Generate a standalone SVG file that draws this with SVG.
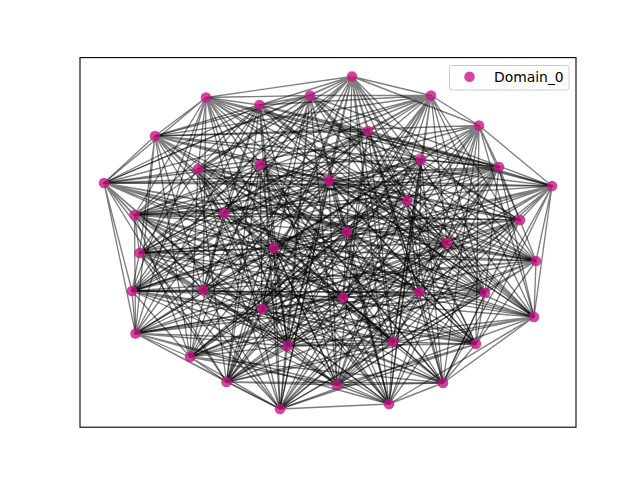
<svg xmlns="http://www.w3.org/2000/svg" width="640" height="480" viewBox="0 0 640 480">
<style>
.e{fill:none;stroke:#000;stroke-opacity:0.5;stroke-width:1.35;stroke-linejoin:round}
.n{fill:#c71585;fill-opacity:0.8}
.lt{font-family:"DejaVu Sans","Liberation Sans",sans-serif;font-size:13.9px;fill:#000}
</style>
<rect x="0" y="0" width="640" height="480" fill="#fff"/>
<g id="edges">
<path class="e" d="M352 76.5L431 95.5 352 76.5 310 95.5 352 76.5 259.5 105 352 76.5 206 97.5 352 76.5 479 125.5 352 76.5 368 131 352 76.5 260 164.5 352 76.5 198 169 352 76.5 329 180.5 352 76.5 104 183 352 76.5 407 200.5 352 76.5 224 213 352 76.5 347 232 352 76.5 447 243 352 76.5 139.5 253 352 76.5 536 261 352 76.5 419 292 352 76.5 485 293 352 76.5 262 309 352 76.5 534 317 352 76.5 393 342 352 76.5 287.5 346 352 76.5 190 357 352 76.5 226.5 382 352 76.5 389 404 352 76.5 280 409"/>
<path class="e" d="M431 95.5L310 95.5 431 95.5 259.5 105 431 95.5 479 125.5 431 95.5 368 131 431 95.5 155 136 431 95.5 260 164.5 431 95.5 198 169 431 95.5 329 180.5 431 95.5 104 183 431 95.5 224 213 431 95.5 134.5 215 431 95.5 347 232 431 95.5 447 243 431 95.5 139.5 253 431 95.5 536 261 431 95.5 485 293 431 95.5 132 291 431 95.5 262 309 431 95.5 534 317 431 95.5 393 342 431 95.5 287.5 346 431 95.5 226.5 382 431 95.5 337 385 431 95.5 389 404 431 95.5 280 409"/>
<path class="e" d="M310 95.5L259.5 105 310 95.5 206 97.5 310 95.5 368 131 310 95.5 155 136 310 95.5 260 164.5 310 95.5 198 169 310 95.5 104 183 310 95.5 552 186 310 95.5 224 213 310 95.5 134.5 215 310 95.5 347 232 310 95.5 447 243 310 95.5 536 261 310 95.5 203 290 310 95.5 485 293 310 95.5 132 291 310 95.5 262 309 310 95.5 534 317 310 95.5 287.5 346 310 95.5 476 344 310 95.5 226.5 382 310 95.5 337 385 310 95.5 389 404 310 95.5 280 409"/>
<path class="e" d="M259.5 105L206 97.5 259.5 105 368 131 259.5 105 155 136 259.5 105 198 169 259.5 105 499 167 259.5 105 104 183 259.5 105 552 186 259.5 105 224 213 259.5 105 134.5 215 259.5 105 447 243 259.5 105 274 248 259.5 105 536 261 259.5 105 203 290 259.5 105 485 293 259.5 105 132 291 259.5 105 534 317 259.5 105 135.5 333.5 259.5 105 287.5 346 259.5 105 476 344 259.5 105 226.5 382 259.5 105 337 385 259.5 105 280 409"/>
<path class="e" d="M206 97.5L155 136 206 97.5 421 159.5 206 97.5 198 169 206 97.5 499 167 206 97.5 104 183 206 97.5 552 186 206 97.5 134.5 215 206 97.5 520 220 206 97.5 447 243 206 97.5 274 248 206 97.5 536 261 206 97.5 203 290 206 97.5 132 291 206 97.5 343 297.5 206 97.5 534 317 206 97.5 135.5 333.5 206 97.5 287.5 346 206 97.5 476 344 206 97.5 337 385 206 97.5 443 383 206 97.5 280 409"/>
<path class="e" d="M479 125.5L155 136 479 125.5 421 159.5 479 125.5 198 169 479 125.5 499 167 479 125.5 552 186 479 125.5 407 200.5 479 125.5 134.5 215 479 125.5 520 220 479 125.5 447 243 479 125.5 274 248 479 125.5 203 290 479 125.5 419 292 479 125.5 132 291 479 125.5 343 297.5 479 125.5 534 317 479 125.5 135.5 333.5 479 125.5 476 344 479 125.5 190 357 479 125.5 337 385 479 125.5 443 383 479 125.5 280 409"/>
<path class="e" d="M368 131L155 136 368 131 421 159.5 368 131 499 167 368 131 329 180.5 368 131 552 186 368 131 407 200.5 368 131 134.5 215 368 131 520 220 368 131 274 248 368 131 139.5 253 368 131 203 290 368 131 419 292 368 131 132 291 368 131 343 297.5 368 131 135.5 333.5 368 131 393 342 368 131 476 344 368 131 190 357 368 131 337 385 368 131 443 383"/>
<path class="e" d="M155 136L421 159.5 155 136 260 164.5 155 136 499 167 155 136 329 180.5 155 136 104 183 155 136 552 186 155 136 407 200.5 155 136 520 220 155 136 347 232 155 136 274 248 155 136 139.5 253 155 136 203 290 155 136 419 292 155 136 343 297.5 155 136 262 309 155 136 135.5 333.5 155 136 393 342 155 136 476 344 155 136 190 357 155 136 443 383 155 136 389 404"/>
<path class="e" d="M421 159.5L260 164.5 421 159.5 499 167 421 159.5 329 180.5 421 159.5 407 200.5 421 159.5 224 213 421 159.5 520 220 421 159.5 347 232 421 159.5 274 248 421 159.5 139.5 253 421 159.5 419 292 421 159.5 485 293 421 159.5 343 297.5 421 159.5 262 309 421 159.5 135.5 333.5 421 159.5 393 342 421 159.5 190 357 421 159.5 226.5 382 421 159.5 443 383 421 159.5 389 404"/>
<path class="e" d="M260 164.5L329 180.5 260 164.5 104 183 260 164.5 407 200.5 260 164.5 224 213 260 164.5 520 220 260 164.5 347 232 260 164.5 139.5 253 260 164.5 536 261 260 164.5 419 292 260 164.5 485 293 260 164.5 343 297.5 260 164.5 262 309 260 164.5 393 342 260 164.5 287.5 346 260 164.5 190 357 260 164.5 226.5 382 260 164.5 443 383 260 164.5 389 404"/>
<path class="e" d="M198 169L329 180.5 198 169 104 183 198 169 407 200.5 198 169 224 213 198 169 347 232 198 169 447 243 198 169 139.5 253 198 169 536 261 198 169 419 292 198 169 485 293 198 169 262 309 198 169 534 317 198 169 393 342 198 169 287.5 346 198 169 190 357 198 169 226.5 382 198 169 389 404 198 169 280 409"/>
<path class="e" d="M499 167L329 180.5 499 167 104 183 499 167 224 213 499 167 134.5 215 499 167 347 232 499 167 447 243 499 167 139.5 253 499 167 536 261 499 167 485 293 499 167 132 291 499 167 262 309 499 167 534 317 499 167 393 342 499 167 287.5 346 499 167 226.5 382 499 167 337 385 499 167 389 404 499 167 280 409"/>
<path class="e" d="M329 180.5L104 183 329 180.5 552 186 329 180.5 224 213 329 180.5 134.5 215 329 180.5 347 232 329 180.5 447 243 329 180.5 536 261 329 180.5 203 290 329 180.5 485 293 329 180.5 132 291 329 180.5 262 309 329 180.5 534 317 329 180.5 287.5 346 329 180.5 476 344 329 180.5 226.5 382 329 180.5 337 385 329 180.5 389 404 329 180.5 280 409"/>
<path class="e" d="M104 183L552 186 104 183 224 213 104 183 134.5 215 104 183 447 243 104 183 274 248 104 183 536 261 104 183 203 290 104 183 485 293 104 183 132 291 104 183 534 317 104 183 135.5 333.5 104 183 287.5 346 104 183 476 344 104 183 226.5 382 104 183 337 385 104 183 280 409"/>
<path class="e" d="M552 186L134.5 215 552 186 520 220 552 186 447 243 552 186 274 248 552 186 536 261 552 186 203 290 552 186 132 291 552 186 343 297.5 552 186 534 317 552 186 135.5 333.5 552 186 287.5 346 552 186 476 344 552 186 337 385 552 186 443 383 552 186 280 409"/>
<path class="e" d="M407 200.5L134.5 215 407 200.5 520 220 407 200.5 447 243 407 200.5 274 248 407 200.5 203 290 407 200.5 419 292 407 200.5 132 291 407 200.5 343 297.5 407 200.5 534 317 407 200.5 135.5 333.5 407 200.5 476 344 407 200.5 190 357 407 200.5 337 385 407 200.5 443 383 407 200.5 280 409"/>
<path class="e" d="M224 213L134.5 215 224 213 520 220 224 213 274 248 224 213 139.5 253 224 213 203 290 224 213 419 292 224 213 132 291 224 213 343 297.5 224 213 135.5 333.5 224 213 393 342 224 213 476 344 224 213 190 357 224 213 337 385 224 213 443 383"/>
<path class="e" d="M134.5 215L520 220 134.5 215 347 232 134.5 215 274 248 134.5 215 139.5 253 134.5 215 203 290 134.5 215 419 292 134.5 215 343 297.5 134.5 215 262 309 134.5 215 135.5 333.5 134.5 215 393 342 134.5 215 476 344 134.5 215 190 357 134.5 215 443 383 134.5 215 389 404"/>
<path class="e" d="M520 220L347 232 520 220 274 248 520 220 139.5 253 520 220 419 292 520 220 485 293 520 220 343 297.5 520 220 262 309 520 220 135.5 333.5 520 220 393 342 520 220 190 357 520 220 226.5 382 520 220 443 383 520 220 389 404"/>
<path class="e" d="M347 232L139.5 253 347 232 536 261 347 232 419 292 347 232 485 293 347 232 343 297.5 347 232 262 309 347 232 393 342 347 232 287.5 346 347 232 190 357 347 232 226.5 382 347 232 443 383 347 232 389 404"/>
<path class="e" d="M447 243L139.5 253 447 243 536 261 447 243 419 292 447 243 485 293 447 243 262 309 447 243 534 317 447 243 393 342 447 243 287.5 346 447 243 190 357 447 243 226.5 382 447 243 389 404 447 243 280 409"/>
<path class="e" d="M274 248L139.5 253 274 248 536 261 274 248 485 293 274 248 132 291 274 248 262 309 274 248 534 317 274 248 393 342 274 248 287.5 346 274 248 226.5 382 274 248 337 385 274 248 389 404 274 248 280 409"/>
<path class="e" d="M139.5 253L536 261 139.5 253 203 290 139.5 253 485 293 139.5 253 132 291 139.5 253 262 309 139.5 253 534 317 139.5 253 287.5 346 139.5 253 476 344 139.5 253 226.5 382 139.5 253 337 385 139.5 253 389 404 139.5 253 280 409"/>
<path class="e" d="M536 261L203 290 536 261 485 293 536 261 132 291 536 261 534 317 536 261 135.5 333.5 536 261 287.5 346 536 261 476 344 536 261 226.5 382 536 261 337 385 536 261 280 409"/>
<path class="e" d="M203 290L132 291 203 290 343 297.5 203 290 534 317 203 290 135.5 333.5 203 290 287.5 346 203 290 476 344 203 290 337 385 203 290 443 383 203 290 280 409"/>
<path class="e" d="M419 292L132 291 419 292 343 297.5 419 292 534 317 419 292 135.5 333.5 419 292 476 344 419 292 190 357 419 292 337 385 419 292 443 383 419 292 280 409"/>
<path class="e" d="M485 293L132 291 485 293 343 297.5 485 293 135.5 333.5 485 293 393 342 485 293 476 344 485 293 190 357 485 293 337 385 485 293 443 383"/>
<path class="e" d="M132 291L343 297.5 132 291 262 309 132 291 135.5 333.5 132 291 393 342 132 291 476 344 132 291 190 357 132 291 443 383 132 291 389 404"/>
<path class="e" d="M343 297.5L262 309 343 297.5 135.5 333.5 343 297.5 393 342 343 297.5 190 357 343 297.5 226.5 382 343 297.5 443 383 343 297.5 389 404"/>
<path class="e" d="M262 309L393 342 262 309 287.5 346 262 309 190 357 262 309 226.5 382 262 309 443 383 262 309 389 404"/>
<path class="e" d="M534 317L393 342 534 317 287.5 346 534 317 190 357 534 317 226.5 382 534 317 443 383 534 317 389 404 534 317 280 409"/>
<path class="e" d="M135.5 333.5L393 342 135.5 333.5 287.5 346 135.5 333.5 190 357 135.5 333.5 226.5 382 135.5 333.5 337 385 135.5 333.5 389 404 135.5 333.5 280 409"/>
<path class="e" d="M393 342L287.5 346 393 342 476 344 393 342 226.5 382 393 342 337 385 393 342 389 404 393 342 280 409"/>
<path class="e" d="M287.5 346L476 344 287.5 346 226.5 382 287.5 346 337 385 287.5 346 280 409"/>
<path class="e" d="M476 344L337 385 476 344 443 383 476 344 280 409"/>
<path class="e" d="M190 357L226.5 382 190 357 337 385 190 357 443 383 190 357 280 409"/>
<path class="e" d="M226.5 382L337 385 226.5 382 443 383 226.5 382 280 409"/>
<path class="e" d="M337 385L443 383 337 385 389 404"/>
<path class="e" d="M443 383L389 404"/>
<path class="e" d="M389 404L280 409"/>
</g>
<g id="nodes">
<g id="n0"><circle class="n" cx="352" cy="76.5" r="5.3"/></g>
<g id="n1"><circle class="n" cx="431" cy="95.5" r="5.3"/></g>
<g id="n2"><circle class="n" cx="310" cy="95.5" r="5.3"/></g>
<g id="n3"><circle class="n" cx="259.5" cy="105" r="5.3"/></g>
<g id="n4"><circle class="n" cx="206" cy="97.5" r="5.3"/></g>
<g id="n5"><circle class="n" cx="479" cy="125.5" r="5.3"/></g>
<g id="n6"><circle class="n" cx="368" cy="131" r="5.3"/></g>
<g id="n7"><circle class="n" cx="155" cy="136" r="5.3"/></g>
<g id="n8"><circle class="n" cx="421" cy="159.5" r="5.3"/></g>
<g id="n9"><circle class="n" cx="260" cy="164.5" r="5.3"/></g>
<g id="n10"><circle class="n" cx="198" cy="169" r="5.3"/></g>
<g id="n11"><circle class="n" cx="499" cy="167" r="5.3"/></g>
<g id="n12"><circle class="n" cx="329" cy="180.5" r="5.3"/></g>
<g id="n13"><circle class="n" cx="104" cy="183" r="5.3"/></g>
<g id="n14"><circle class="n" cx="552" cy="186" r="5.3"/></g>
<g id="n15"><circle class="n" cx="407" cy="200.5" r="5.3"/></g>
<g id="n16"><circle class="n" cx="224" cy="213" r="5.3"/></g>
<g id="n17"><circle class="n" cx="134.5" cy="215" r="5.3"/></g>
<g id="n18"><circle class="n" cx="520" cy="220" r="5.3"/></g>
<g id="n19"><circle class="n" cx="347" cy="232" r="5.3"/></g>
<g id="n20"><circle class="n" cx="447" cy="243" r="5.3"/></g>
<g id="n21"><circle class="n" cx="274" cy="248" r="5.3"/></g>
<g id="n22"><circle class="n" cx="139.5" cy="253" r="5.3"/></g>
<g id="n23"><circle class="n" cx="536" cy="261" r="5.3"/></g>
<g id="n24"><circle class="n" cx="203" cy="290" r="5.3"/></g>
<g id="n25"><circle class="n" cx="419" cy="292" r="5.3"/></g>
<g id="n26"><circle class="n" cx="485" cy="293" r="5.3"/></g>
<g id="n27"><circle class="n" cx="132" cy="291" r="5.3"/></g>
<g id="n28"><circle class="n" cx="343" cy="297.5" r="5.3"/></g>
<g id="n29"><circle class="n" cx="262" cy="309" r="5.3"/></g>
<g id="n30"><circle class="n" cx="534" cy="317" r="5.3"/></g>
<g id="n31"><circle class="n" cx="135.5" cy="333.5" r="5.3"/></g>
<g id="n32"><circle class="n" cx="393" cy="342" r="5.3"/></g>
<g id="n33"><circle class="n" cx="287.5" cy="346" r="5.3"/></g>
<g id="n34"><circle class="n" cx="476" cy="344" r="5.3"/></g>
<g id="n35"><circle class="n" cx="190" cy="357" r="5.3"/></g>
<g id="n36"><circle class="n" cx="226.5" cy="382" r="5.3"/></g>
<g id="n37"><circle class="n" cx="337" cy="385" r="5.3"/></g>
<g id="n38"><circle class="n" cx="443" cy="383" r="5.3"/></g>
<g id="n39"><circle class="n" cx="389" cy="404" r="5.3"/></g>
<g id="n40"><circle class="n" cx="280" cy="409" r="5.3"/></g>
</g>
<rect x="80" y="57.6" width="496" height="369.6" fill="none" stroke="#000" stroke-width="1.1"/>
<g id="legend">
<rect x="449.5" y="65.5" width="119.5" height="24.5" rx="2.5" fill="#fff" fill-opacity="0.8" stroke="#ccc" stroke-width="1"/>
<circle class="n" cx="469.5" cy="76.8" r="5.3"/>
<text class="lt" x="494" y="81.8">Domain_0</text>
</g>
</svg>
